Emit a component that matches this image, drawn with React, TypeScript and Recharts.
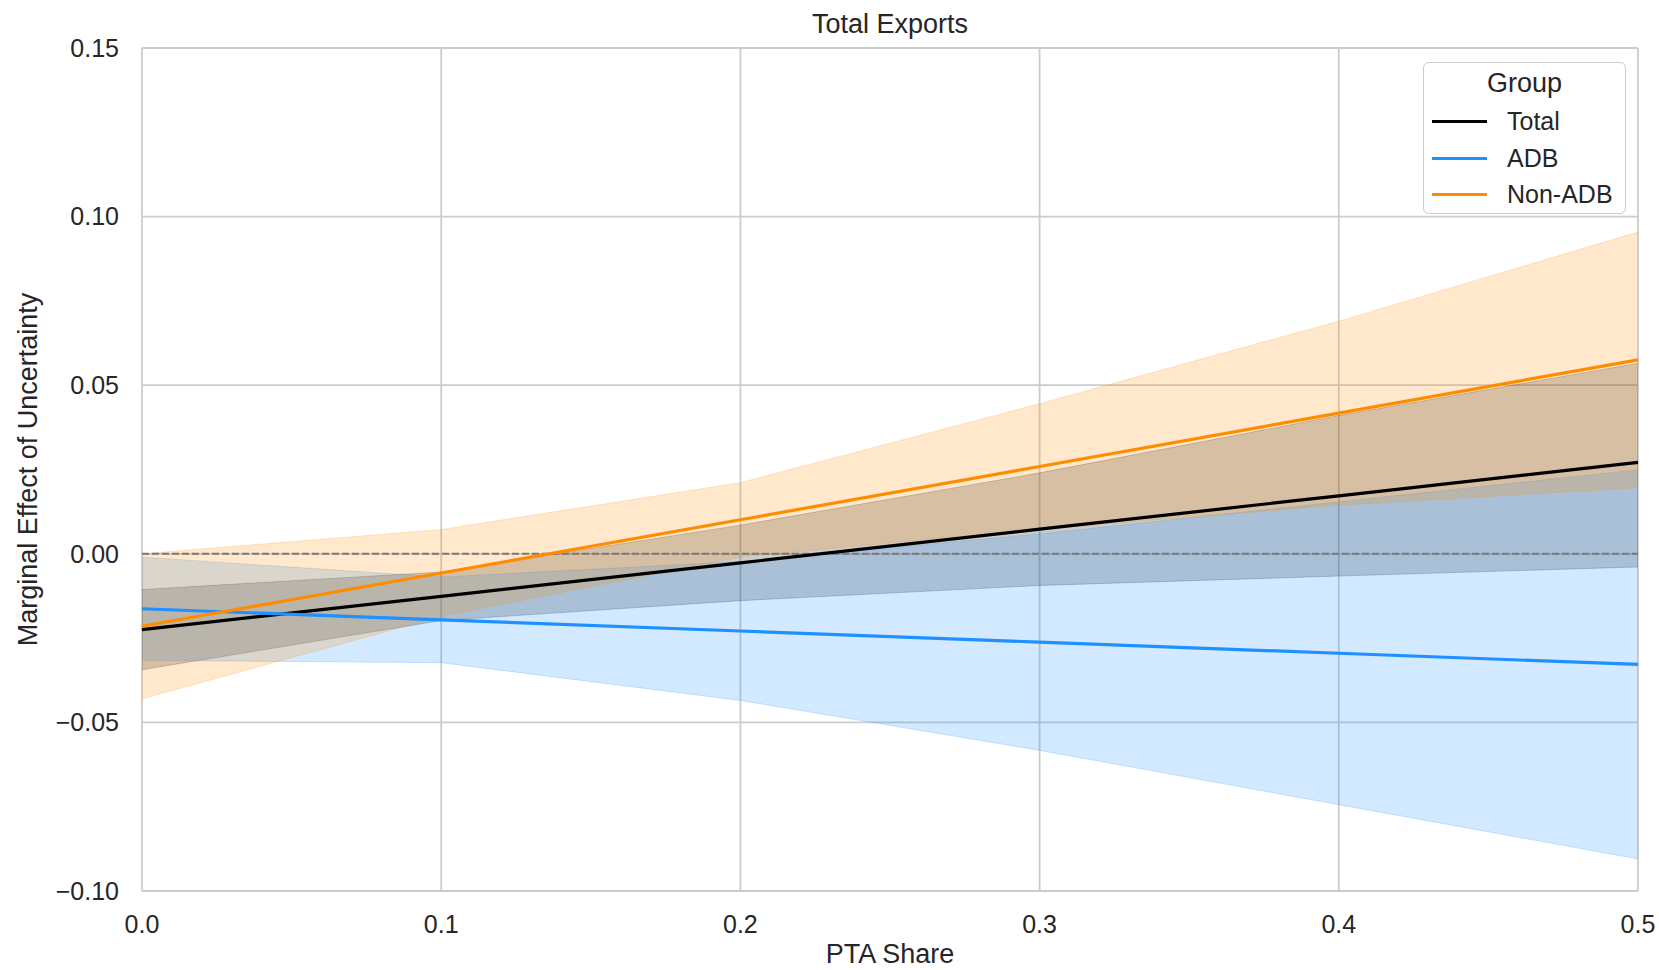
import { ComposedChart, Area, Line, XAxis, YAxis, CartesianGrid, ReferenceLine, Legend } from "recharts";

// PTA share grid used for the marginal effects
const ptaShare = [0, 0.1, 0.2, 0.3, 0.4, 0.5];

// Total
const totalMean = [-0.0225, -0.0126, -0.0027, 0.0073, 0.0172, 0.0271];
const totalLow = [-0.0344, -0.0198, -0.0139, -0.0094, -0.0066, -0.0039];
const totalHigh = [-0.0106, -0.0054, 0.0085, 0.024, 0.041, 0.0565];

// ADB
const adbMean = [-0.0163, -0.0196, -0.0229, -0.0262, -0.0295, -0.0328];
const adbLow = [-0.0316, -0.0323, -0.0435, -0.0583, -0.0744, -0.0905];
const adbHigh = [-0.001, -0.0069, -0.0023, 0.0059, 0.0154, 0.0249];

// Non-ADB
const nonAdbMean = [-0.0215, -0.0057, 0.0101, 0.0259, 0.0417, 0.0575];
const nonAdbLow = [-0.043, -0.0186, -0.0009, 0.0073, 0.0144, 0.0196];
const nonAdbHigh = [0.0, 0.0072, 0.0211, 0.0445, 0.069, 0.0954];

const xTicks = [0, 0.1, 0.2, 0.3, 0.4, 0.5];
const yTicks = [-0.1, -0.05, 0, 0.05, 0.1, 0.15];

const groups = [
  { name: "Total", color: "#000000" },
  { name: "ADB", color: "#1E90FF" },
  { name: "Non-ADB", color: "#FF8C00" },
];

const data = ptaShare.map((x, i) => ({
  x,
  total: totalMean[i],
  totalBand: [totalLow[i], totalHigh[i]],
  adb: adbMean[i],
  adbBand: [adbLow[i], adbHigh[i]],
  nonAdb: nonAdbMean[i],
  nonAdbBand: [nonAdbLow[i], nonAdbHigh[i]],
}));

const FONT = '"Liberation Sans", Arial, sans-serif';
const TEXT = "#262626";
const GRID = "#cccccc";

const fmtY = (v: number) => v.toFixed(2).replace("-", "\u2212");

function GroupLegend() {
  return (
    <div
      style={{
        position: "relative",
        width: 203,
        height: 152,
        boxSizing: "border-box",
        border: `1.5px solid ${GRID}`,
        borderRadius: 6,
        background: "rgba(255,255,255,0.8)",
        fontFamily: FONT,
        color: TEXT,
      }}
    >
      <div style={{ position: "absolute", left: 0, width: "100%", top: 7, textAlign: "center", fontSize: 27, lineHeight: "27px" }}>
        Group
      </div>
      {groups.map((g, i) => (
        <div key={g.name} style={{ position: "absolute", left: 0, top: 45 + i * 36.5, height: 26, width: "100%" }}>
          <div style={{ position: "absolute", left: 8, top: 12, width: 55, height: 3, background: g.color }} />
          <div style={{ position: "absolute", left: 83, top: 0, fontSize: 25, lineHeight: "26px" }}>{g.name}</div>
        </div>
      ))}
    </div>
  );
}

export default function App() {
  return (
    <div style={{ position: "absolute", left: 0, top: 0, width: 1659, height: 970, background: "#fff" }}>
      <div
        style={{
          position: "absolute",
          left: 142,
          width: 1496,
          top: 11,
          textAlign: "center",
          fontFamily: FONT,
          fontSize: 27,
          lineHeight: "27px",
          color: TEXT,
        }}
      >
        Total Exports
      </div>
      <ComposedChart
        width={1659}
        height={970}
        data={data}
        margin={{ top: 48, right: 21, bottom: 49, left: 82 }}
        style={{ fontFamily: FONT }}
      >
        <CartesianGrid stroke={GRID} strokeWidth={1.8} />
        <XAxis
          dataKey="x"
          type="number"
          domain={[0, 0.5]}
          ticks={xTicks}
          tickFormatter={(v: number) => v.toFixed(1)}
          axisLine={false}
          tickLine={false}
          tickSize={0}
          tickMargin={24}
          height={30}
          tick={{ fill: TEXT, fontSize: 25 }}
          label={{ value: "PTA Share", position: "bottom", offset: 23, fill: TEXT, fontSize: 27 }}
        />
        <YAxis
          type="number"
          domain={[-0.1, 0.15]}
          ticks={yTicks}
          tickFormatter={fmtY}
          axisLine={false}
          tickLine={false}
          tickSize={0}
          tickMargin={23}
          width={60}
          tick={{ fill: TEXT, fontSize: 25 }}
          label={{
            value: "Marginal Effect of Uncertainty",
            angle: -90,
            position: "left",
            offset: 55,
            fill: TEXT,
            fontSize: 27,
            style: { textAnchor: "middle" },
          }}
        />
        <ReferenceLine y={0} stroke="#7a7a7a" strokeWidth={2} strokeDasharray="7 3" />

        {/* confidence bands */}
        <Area type="linear" dataKey="totalBand" fill="#000000" fillOpacity={0.2} stroke="#000000" strokeOpacity={0.2} strokeWidth={1} isAnimationActive={false} />
        <Area type="linear" dataKey="adbBand" fill="#1E90FF" fillOpacity={0.2} stroke="#1E90FF" strokeOpacity={0.2} strokeWidth={1} isAnimationActive={false} />
        <Area type="linear" dataKey="nonAdbBand" fill="#FF8C00" fillOpacity={0.2} stroke="#FF8C00" strokeOpacity={0.2} strokeWidth={1} isAnimationActive={false} />

        <Line type="linear" dataKey="total" stroke="#000000" strokeWidth={3.2} dot={false} isAnimationActive={false} />
        <Line type="linear" dataKey="adb" stroke="#1E90FF" strokeWidth={3.2} dot={false} isAnimationActive={false} />
        <Line type="linear" dataKey="nonAdb" stroke="#FF8C00" strokeWidth={3.2} dot={false} isAnimationActive={false} />

        <Legend
          layout="vertical"
          align="center"
          verticalAlign="middle"
          content={() => <GroupLegend />}
          wrapperStyle={{ position: "absolute", left: 1423, top: 62, width: 203, height: 152 }}
        />
      </ComposedChart>
    </div>
  );
}
